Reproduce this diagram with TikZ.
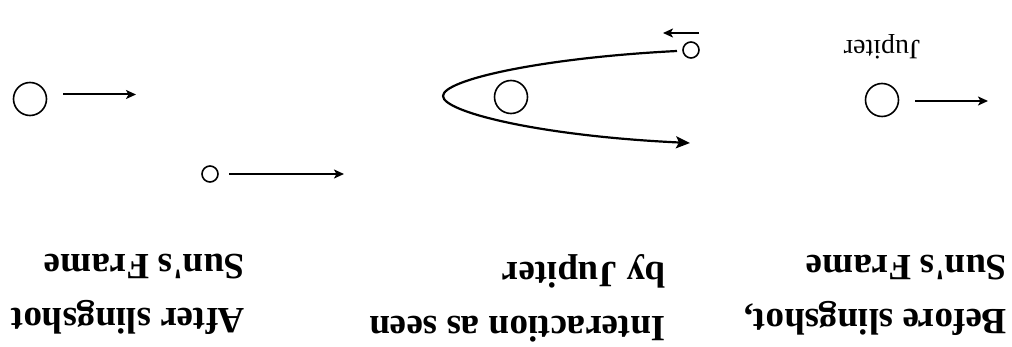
\documentclass[tikz,border=0pt]{standalone}
\usepackage{fontspec}
\setmainfont{Liberation Serif}
\usetikzlibrary{arrows.meta}

\begin{document}
\begin{tikzpicture}[
  x=1pt,y=-1pt,
  body/.style={circle,draw,line width=1.6pt,inner sep=0pt},
  planet/.style={body,minimum size=33pt},
  probe/.style={body,minimum size=16pt},
  vel/.style={-{Stealth[length=10pt,width=9pt,inset=2.5pt]},line width=2pt},
  orbit/.style={-{Stealth[length=14pt,width=12pt,inset=3pt]},line width=2.2pt},
  caption/.style={rotate=180,anchor=west,align=left,inner sep=0pt,font=\bfseries\fontsize{37}{54}\selectfont}
]
\useasboundingbox (0,0) rectangle (1012,347);
% the whole figure is printed upside down, so every text is turned by 180
% right: before the slingshot, sun's frame
\node[planet] (jupA) at (882,100) {};
\node[rotate=180,inner sep=0pt,font=\fontsize{28}{30}\selectfont] (jupname) at (882,47) {Jupiter};
\coordinate (vA0) at (915,101);
\coordinate (vA1) at (988,101);
\draw[vel] (vA0) -- (vA1);
% middle: as seen by Jupiter
\node[planet] (jupB) at (511,97) {};
\node[probe] (craftB) at (691,50) {};
\coordinate (inB) at (677,51);
\coordinate (tipB) at (443,96);
\coordinate (outB) at (690,143);
\draw[orbit] (inB) .. controls (540,58) and (443,80) .. (tipB) .. controls (443,112) and (540,136) .. (outB);
\coordinate (vB0) at (699,33);
\coordinate (vB1) at (663,33);
\draw[vel] (vB0) -- (vB1);
% left: after the slingshot, sun's frame
\node[planet] (jupC) at (30,99) {};
\coordinate (vC0) at (63,94.5);
\coordinate (vC1) at (136,94.5);
\draw[vel] (vC0) -- (vC1);
\node[probe] (craftC) at (210,174) {};
\coordinate (wC0) at (229,174);
\coordinate (wC1) at (344,174);
\draw[vel] (wC0) -- (wC1);
\node[caption] (capA) at (1007,295) {Before slingshot,\\Sun\textquotesingle s Frame};
\node[caption] (capB) at (666,298) {Interaction as seen\\by Jupiter};
\node[caption] (capC) at (245,294) {After slingshot\\Sun\textquotesingle s Frame};
\end{tikzpicture}
\end{document}
